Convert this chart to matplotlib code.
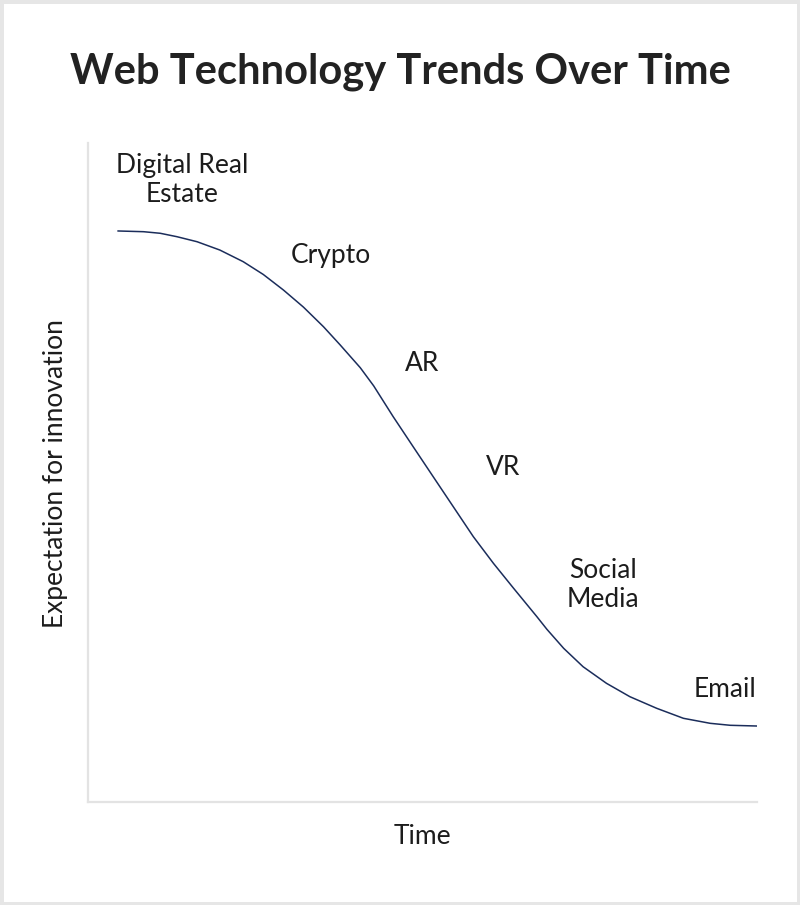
import matplotlib.pyplot as plt
from matplotlib.patches import Rectangle

# curve (time, expectation), both on a 0-100 scale
TIME = [4.5, 8.3, 10.8, 13.3, 16.3, 19.7, 23.2, 26.2, 29.2, 32.2,
        35.2, 37.7, 40.7, 42.7, 45.6, 48.6, 51.6, 54.6, 57.6, 60.6,
        63.6, 67.1, 68.6, 71.1, 74.0, 77.5, 81.0, 85.0, 89.0, 93.0,
        96.0, 100.0]
EXPECTATION = [86.65, 86.54, 86.30, 85.78, 85.02, 83.76, 81.99, 80.05, 77.70, 75.10,
               72.12, 69.35, 65.90, 63.15, 58.50, 53.92, 49.36, 44.81, 40.26, 36.22,
               32.45, 28.12, 26.20, 23.32, 20.53, 18.01, 15.98, 14.22, 12.70, 11.94,
               11.64, 11.53]

LABELS = ['Digital Real\nEstate', 'Crypto', 'AR', 'VR', 'Social\nMedia', 'Email']
LABEL_X = [14.05, 36.3, 49.9, 62.0, 77.0, 95.2]
LABEL_Y = [94.4, 83.0, 66.6, 50.7, 32.9, 17.0]

FONT = ['Lato', 'DejaVu Sans']
TEXT = '#1c1c1c'

fig = plt.figure(figsize=(8, 9.05), dpi=100)
ax = fig.add_axes([88 / 800, 103 / 905, 669 / 800, 659 / 905])

ax.plot(TIME, EXPECTATION, color='#1b2d5b', lw=1.1, solid_joinstyle='round')

for txt, x, y in zip(LABELS, LABEL_X, LABEL_Y):
    ax.text(x, y, txt, ha='center', va='center', fontsize=19,
            family=FONT, color=TEXT, linespacing=1.22)

ax.set_xlim(0, 100)
ax.set_ylim(0, 100)
ax.set_xticks([])
ax.set_yticks([])
for side in ['top', 'right']:
    ax.spines[side].set_visible(False)
for side in ['left', 'bottom']:
    ax.spines[side].set_color('#e3e3e3')
    ax.spines[side].set_linewidth(1.6)

ax.set_xlabel('Time', fontsize=19, family=FONT, color=TEXT)
ax.set_ylabel('Expectation for innovation', fontsize=19, family=FONT, color=TEXT)
ax.xaxis.label.set_va('center')
ax.yaxis.label.set_va('center')
ax.xaxis.set_label_coords(0.5, -0.0516)
ax.yaxis.set_label_coords(-0.0493, 0.499)

fig.text(0.5, 1 - 72 / 905, 'Web Technology Trends Over Time', ha='center',
         va='center', fontsize=30, fontweight='bold', family=FONT, color='#222222')

fig.patches.append(Rectangle((0, 0), 1, 1, transform=fig.transFigure,
                             fill=False, edgecolor='#e6e6e6', lw=5))

fig.savefig('out.png', dpi=100)
